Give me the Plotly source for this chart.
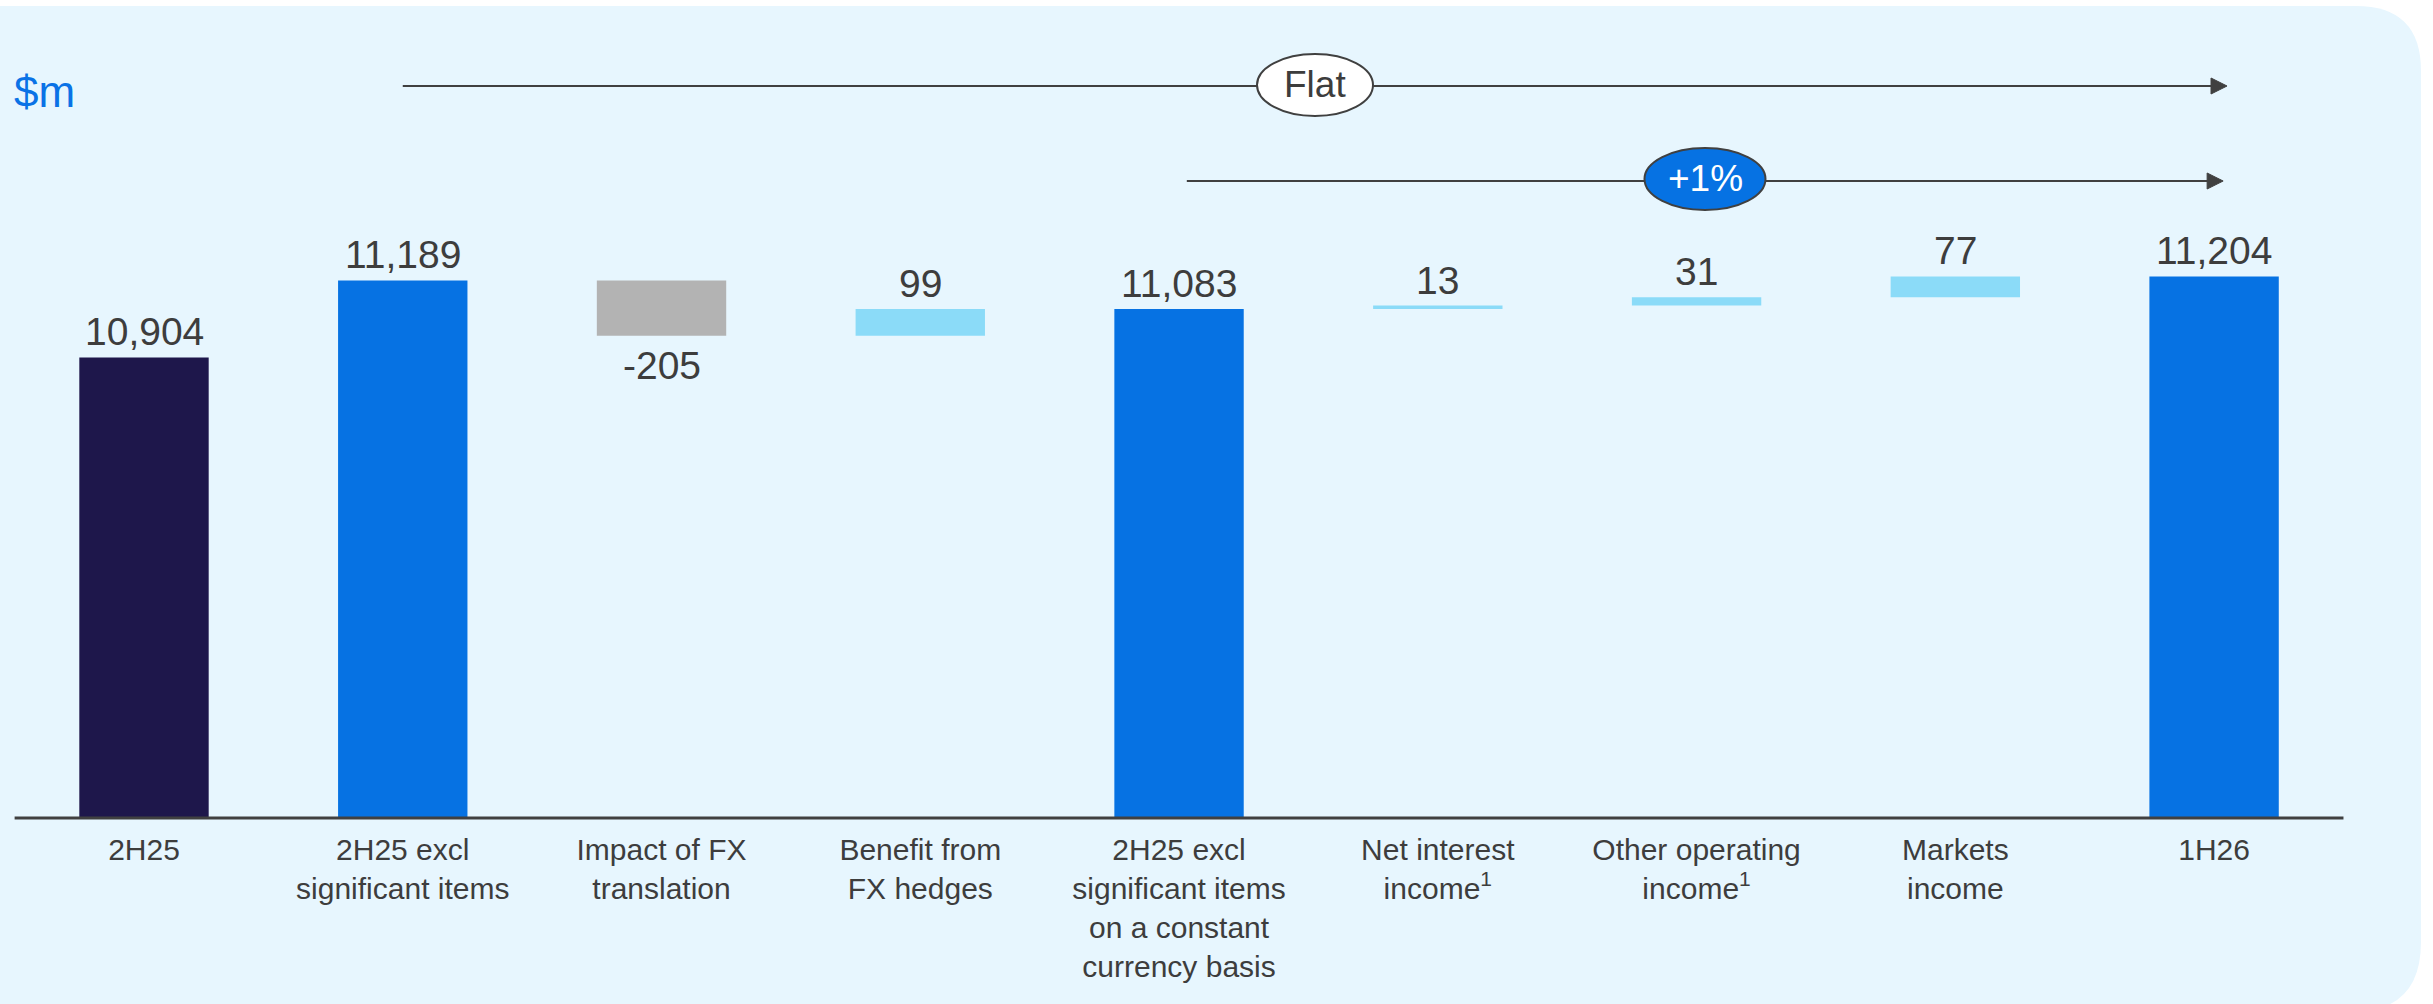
import plotly.graph_objects as go

# Revenue bridge, $m
categories = [
    "2H25",
    "2H25 excl<br>significant items",
    "Impact of FX<br>translation",
    "Benefit from<br>FX hedges",
    "2H25 excl<br>significant items<br>on a constant<br>currency basis",
    "Net interest<br>income<sup>1</sup>",
    "Other operating<br>income<sup>1</sup>",
    "Markets<br>income",
    "1H26",
]
values = [10904, 11189, -205, 99, 11083, 13, 31, 77, 11204]
measures = ["total", "total", "delta", "delta", "total", "delta", "delta", "delta", "total"]
bubble_labels = ["Flat", "+1%"]

FONT = "Liberation Sans, Arial, sans-serif"
TEXT = "#3D3D3D"
NAVY = "#1E174B"
BLUE = "#0672E3"
GREY = "#B3B3B3"
LIGHT = "#8BDBF8"
PANEL = "#E7F6FE"
LINE = "#404040"

W, H = 2433, 1004
PLOT_B = 186            # bottom margin; plot area is pixels 0..818
PLOT_H = H - PLOT_B
Y0 = 9200
UNITS_PER_PX = 3.70
X0, X1 = -0.5565, 8.846

# Bar bases / heights / colours from the bridge
xs = list(range(len(values)))
bases, heights, colors, tops, bottoms = [], [], [], [], []
running = 0
for i, (v, m) in enumerate(zip(values, measures)):
    if m == "total":
        bases.append(0)
        heights.append(v)
        colors.append(NAVY if i == 0 else BLUE)
        running = v
        tops.append(v)
        bottoms.append(v)
    else:
        bases.append(running)
        heights.append(v)
        colors.append(GREY if v < 0 else LIGHT)
        tops.append(max(running, running + v))
        bottoms.append(min(running, running + v))
        running += v

fig = go.Figure(
    go.Bar(
        x=xs, y=heights, base=bases, width=0.5,
        marker=dict(color=colors, line=dict(width=0)),
        hoverinfo="skip",
    )
)

def py(px):
    """pixel row -> paper y"""
    return (PLOT_H - px) / PLOT_H

def px_x(px):
    """pixel column -> x data"""
    return X0 + px / W * (X1 - X0)

annotations = []
# value labels
for i, v in enumerate(values):
    label = f"{v:,}"
    if v < 0:
        annotations.append(dict(x=i, y=bottoms[i], xref="x", yref="y", text=label,
                                showarrow=False, yanchor="top", yshift=-6,
                                font=dict(family=FONT, size=39, color=TEXT)))
    else:
        annotations.append(dict(x=i, y=tops[i], xref="x", yref="y", text=label,
                                showarrow=False, yanchor="bottom", yshift=2,
                                font=dict(family=FONT, size=39, color=TEXT)))

# unit label
annotations.append(dict(x=12 / W, y=py(92), xref="paper", yref="paper", text="$m",
                        showarrow=False, xanchor="left", yanchor="middle",
                        font=dict(family=FONT, size=44, color="#0A72E6")))

shapes = []
# background panel with rounded right-hand corners
r_tr, r_br = 65, 70
left, top, right, bottom = -2, 6, 2421, 1012
def P(x, y):
    return f"{x / W:.5f},{py(y):.5f}"
panel_path = (
    f"M {P(left, top)} L {P(right - r_tr, top)} Q {P(right, top)} {P(right, top + r_tr)} "
    f"L {P(right, bottom - r_br)} Q {P(right, bottom)} {P(right - r_br, bottom)} "
    f"L {P(left, bottom)} Z"
)
shapes.append(dict(type="path", path=panel_path, xref="paper", yref="paper",
                   fillcolor=PANEL, line=dict(width=0), layer="below"))

# baseline
shapes.append(dict(type="line", xref="x", yref="paper", x0=-0.5, x1=8.5, y0=0, y1=0,
                   line=dict(color=LINE, width=3), layer="above"))

# change arrows with bubbles
arrows = [
    dict(start=1.0, tip=8.05, row=86, bubble_x=1315, bubble_row=85, bw=116, bh=62,
         fill="white", txt=TEXT, label=bubble_labels[0]),
    dict(start=4.03, tip=8.035, row=181, bubble_x=1705, bubble_row=179, bw=121, bh=62,
         fill=BLUE, txt="white", label=bubble_labels[1]),
]
for a in arrows:
    yy = py(a["row"])
    shapes.append(dict(type="line", xref="x", yref="paper", x0=a["start"], x1=a["tip"] - 0.04,
                       y0=yy, y1=yy, line=dict(color=LINE, width=2)))
    shapes.append(dict(type="path", xref="x", yref="paper", xsizemode="pixel", ysizemode="pixel",
                       xanchor=a["tip"], yanchor=yy, path="M 0,0 L -16,8 L -16,-8 Z",
                       fillcolor=LINE, line=dict(color=LINE, width=1)))
    bx = px_x(a["bubble_x"])
    by = py(a["bubble_row"])
    shapes.append(dict(type="circle", xref="x", yref="paper", xsizemode="pixel", ysizemode="pixel",
                       xanchor=bx, yanchor=by, x0=-a["bw"] / 2, x1=a["bw"] / 2,
                       y0=-a["bh"] / 2, y1=a["bh"] / 2,
                       fillcolor=a["fill"], line=dict(color=LINE, width=2)))
    annotations.append(dict(x=bx, y=by, xref="x", yref="paper", text=a["label"], showarrow=False,
                            xanchor="center", yanchor="middle",
                            font=dict(family=FONT, size=37, color=a["txt"])))

fig.update_layout(
    width=W, height=H,
    margin=dict(l=0, r=0, t=0, b=PLOT_B, pad=0),
    paper_bgcolor="white",
    plot_bgcolor="rgba(0,0,0,0)",
    showlegend=False,
    bargap=0.5,
    shapes=shapes,
    annotations=annotations,
    xaxis=dict(
        range=[X0, X1], tickmode="array", tickvals=xs, ticktext=categories,
        showgrid=False, zeroline=False, showline=False, ticks="",
        ticklabelstandoff=11,
        tickfont=dict(family=FONT, size=30, color=TEXT),
        fixedrange=True,
    ),
    yaxis=dict(
        range=[Y0, Y0 + PLOT_H * UNITS_PER_PX], visible=False,
        showgrid=False, zeroline=False, fixedrange=True,
    ),
)

fig.write_html("out.html", config={"displayModeBar": False})
